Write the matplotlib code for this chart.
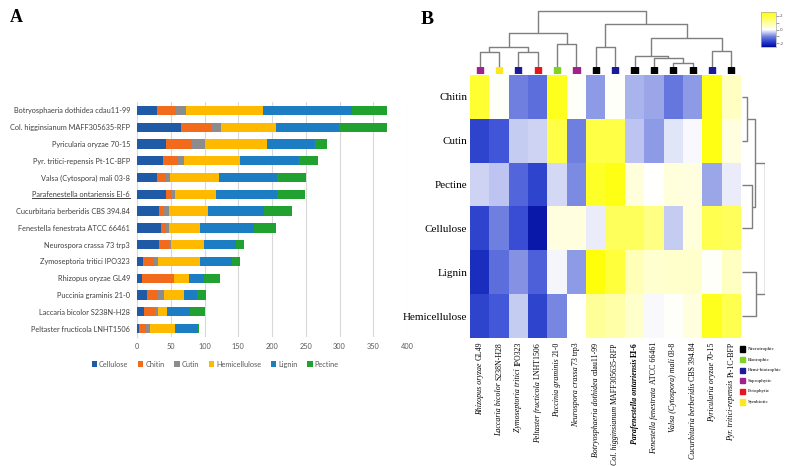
import numpy as np
import matplotlib
matplotlib.use("Agg")
import matplotlib.pyplot as plt
from matplotlib.colors import LinearSegmentedColormap
from matplotlib.patches import Rectangle
from matplotlib.lines import Line2D

W, H = 793, 466

# ---------------- panel A : stacked bars ----------------
fungi = ["Botryosphaeria dothidea cdau11-99", "Col. higginsianum MAFF305635-RFP",
         "Pyricularia oryzae 70-15", "Pyr. tritici-repensis Pt-1C-BFP",
         "Valsa (Cytospora) mali 03-8", "Parafenestella ontariensis EI-6",
         "Cucurbitaria berberidis CBS 394.84", "Fenestella fenestrata ATCC 66461",
         "Neurospora crassa 73 trp3", "Zymoseptoria tritici IPO323",
         "Rhizopus oryzae GL49", "Puccinia graminis 21-0",
         "Laccaria bicolor S238N-H28", "Peltaster fructicola LNHT1506"]
substrates = ["Cellulose", "Chitin", "Cutin", "Hemicellulose", "Lignin", "Pectine"]
cellulose = [30, 65, 43, 39, 29, 43, 32, 36, 32, 9, 8, 15, 11, 3]
chitin = [28, 45, 38, 21, 14, 8, 7, 7, 16, 16, 47, 16, 15, 10]
cutin = [15, 15, 19, 9, 6, 6, 8, 4, 2, 6, 0, 9, 5, 6]
hemicellulose = [113, 81, 92, 83, 72, 60, 58, 47, 49, 62, 22, 30, 13, 38]
lignin = [132, 93, 72, 88, 86, 91, 83, 80, 47, 48, 22, 19, 35, 33]
pectine = [53, 72, 17, 28, 43, 41, 42, 32, 12, 11, 24, 13, 21, 2]
bar_colors = ["#1f5aa6", "#f26b1d", "#8c8c8c", "#ffba00", "#1d7dc2", "#21a12f"]

# ---------------- panel B : heatmap ----------------
heat_rows = ["Chitin", "Cutin", "Pectine", "Cellulose", "Lignin", "Hemicellulose"]
col_species = ["Rhizopus oryzae", "Laccaria bicolor", "Zymoseptoria tritici",
               "Peltaster fructicola", "Puccinia graminis", "Neurospora crassa",
               "Botryosphaeria dothidea", "Col. higginsianum", "Parafenestella ontariensis",
               "Fenestella fenestrata", "Valsa (Cytospora) mali", "Cucurbitaria berberidis",
               "Pyricularia oryzae", "Pyr. tritici-repensis"]
col_strain = ["GL49", "S238N-H28", "IPO323", "LNHT1506", "21-0", "73 trp3", "cdau11-99",
              "MAFF305635-RFP", "EI-6", "ATCC 66461", "03-8", "CBS 394.84", "70-15", "Pt-1C-BFP"]
z_chitin = [2.0, 0.05, -1.0, -1.2, 2.2, 0.05, -0.8, 0.05, -0.6, -0.7, -1.1, -0.8, 2.3, 0.6]
z_cutin = [-1.7, -1.5, -0.4, -0.35, 1.8, -1.0, 1.8, 1.8, -0.45, -0.8, -0.2, -0.05, 2.3, 0.3]
z_pectine = [-0.35, -0.45, -1.3, -1.7, -0.3, -0.9, 2.1, 2.3, 0.35, 0.0, 0.35, 0.3, -0.7, -0.15]
z_cellulose = [-1.7, -1.0, -1.6, -2.3, 0.3, 0.3, -0.15, 1.6, 1.6, 1.2, -0.4, 0.35, 1.7, 1.6]
z_lignin = [-2.0, -1.2, -0.85, -1.35, -0.07, -0.8, 2.4, 1.9, 0.7, 0.45, 0.5, 0.5, 0.05, 0.6]
z_hemi = [-1.7, -1.45, -0.4, -1.7, -0.95, 0.0, 1.0, 0.85, 0.5, -0.05, 0.05, 0.3, 2.2, 1.7]
lifestyle = ["Saprophytic", "Symbiotic", "Hemi-biotrophic", "Ectophytic", "Biotrophic",
             "Saprophytic", "Necrotrophic", "Hemi-biotrophic", "Necrotrophic", "Necrotrophic",
             "Necrotrophic", "Necrotrophic", "Hemi-biotrophic", "Necrotrophic"]
life_names = ["Necrotrophic", "Biotrophic", "Hemi-biotrophic", "Saprophytic", "Ectophytic", "Symbiotic"]
life_colors = ["#000000", "#80d41e", "#1a1a9a", "#a0228c", "#e8141e", "#ffe81a"]

# hclust style merges: (left, right, height); new node ids follow leaves
col_merges = [(0, 1, 2.7), (2, 3, 2.7), (14, 15, 3.6), (4, 5, 4.0), (16, 17, 6.0),
              (6, 7, 3.6), (10, 11, 0.7), (9, 20, 1.55), (8, 21, 1.9), (12, 13, 2.8),
              (22, 23, 5.2), (19, 24, 7.6), (18, 25, 10.0)]
row_merges = [(0, 1, 2.5), (2, 3, 4.4), (6, 7, 5.9), (4, 5, 6.3), (8, 9, 10.0)]

SERIF = "Liberation Serif"
SANS = "Lato"


def px_axes(fig, x0, y0, x1, y1):
    return fig.add_axes([x0 / W, 1 - y1 / H, (x1 - x0) / W, (y1 - y0) / H])


def draw_dendro(ax, merges, n, vertical=True):
    pos = {i: i + 0.5 for i in range(n)}
    hgt = {i: 0.0 for i in range(n)}
    for k, (a, b, h) in enumerate(merges):
        xs = [pos[a], pos[a], pos[b], pos[b]]
        ys = [hgt[a], h, h, hgt[b]]
        if vertical:
            ax.plot(xs, ys, color="#7f7f7f", lw=1.0, solid_capstyle="butt")
        else:
            ax.plot(ys, xs, color="#7f7f7f", lw=1.0, solid_capstyle="butt")
        pos[n + k] = (pos[a] + pos[b]) / 2
        hgt[n + k] = h


fig = plt.figure(figsize=(W / 100, H / 100), dpi=100)
r = fig.canvas.get_renderer()


def fit_size(s, target_px, **kw):
    # font size that makes string s about target_px wide
    t = fig.text(0, 0, s, fontsize=10, **kw)
    w = t.get_window_extent(r).width
    t.remove()
    return 10 * target_px / w


size_a = fit_size(fungi[0], 118, family=SANS)
size_col = fit_size("Botryosphaeria dothidea cdau11-99", 115, family=SERIF, style="italic")

# ---- A
axA = px_axes(fig, 137, 102, 407, 337)
series = [cellulose, chitin, cutin, hemicellulose, lignin, pectine]
ypos = np.arange(len(fungi))
left = np.zeros(len(fungi))
for name, vals, col in zip(substrates, series, bar_colors):
    axA.barh(ypos, vals, left=left, height=0.55, color=col, label=name, zorder=3)
    left += np.array(vals)
axA.set_ylim(len(fungi) - 0.5, -0.5)
axA.set_xlim(0, 400)
axA.set_xticks(np.arange(0, 401, 50))
axA.grid(axis="x", color="#d9d9d9", lw=0.8, zorder=0)
for s in ["top", "right", "bottom"]:
    axA.spines[s].set_visible(False)
axA.spines["left"].set_color("#d9d9d9")
axA.set_yticks(ypos, fungi)
axA.tick_params(axis="y", length=0, pad=5, labelsize=size_a, labelcolor="#404040")
axA.tick_params(axis="x", length=0, pad=4, labelsize=size_a, labelcolor="#595959")
for lab in axA.get_yticklabels() + axA.get_xticklabels():
    lab.set_family(SANS)
leg = axA.legend(ncol=6, loc="center", bbox_to_anchor=(0.29, -0.115), frameon=False,
                 handlelength=0.7, handleheight=0.7, handletextpad=0.3,
                 columnspacing=1.3, prop={"family": SANS, "size": size_a})
for t in leg.get_texts():
    t.set_color("#595959")
fig.text(16 / W, 1 - 18 / H, "A", family=SERIF, weight="bold", fontsize=13, ha="center", va="center")

# ---- B heatmap
cmap = LinearSegmentedColormap.from_list("byw", [
    (0.0, "#000a9c"), (0.1, "#1a2ec0"), (0.2, "#4055d8"), (0.3, "#7080e0"),
    (0.4, "#b8c0f0"), (0.5, "#ffffff"), (1.0, "#ffff00")])
Z = np.array([z_chitin, z_cutin, z_pectine, z_cellulose, z_lignin, z_hemi])
axH = px_axes(fig, 470, 75, 741, 338)
im = axH.imshow(Z, cmap=cmap, vmin=-2.5, vmax=2.5, aspect="auto", interpolation="nearest",
                extent=(0, Z.shape[1], Z.shape[0], 0))
for s in axH.spines.values():
    s.set_visible(False)
axH.set_xticks([])
axH.set_yticks(np.arange(len(heat_rows)) + 0.5, heat_rows)
axH.tick_params(axis="y", length=0, pad=2, labelsize=8)
for lab in axH.get_yticklabels():
    lab.set_family(SERIF)

# column dendrogram
axD = px_axes(fig, 470, 10, 741, 67)
draw_dendro(axD, col_merges, len(col_species), vertical=True)
axD.set_xlim(0, len(col_species))
axD.set_ylim(0, 10.1)
axD.axis("off")

# lifestyle squares
axS = px_axes(fig, 470, 67, 741, 74)
for i, ls in enumerate(lifestyle):
    axS.add_patch(Rectangle((i + 0.5 - 0.16, 0.05), 0.32, 0.9,
                            color=life_colors[life_names.index(ls)]))
axS.set_xlim(0, len(col_species))
axS.set_ylim(0, 1)
axS.axis("off")

# row dendrogram
axR = px_axes(fig, 741.5, 75, 765.5, 338)
draw_dendro(axR, row_merges, len(heat_rows), vertical=False)
axR.set_ylim(len(heat_rows), 0)
axR.set_xlim(0, 10.2)
axR.axis("off")

# colorbar
cax = px_axes(fig, 761, 12, 776, 47)
cb = fig.colorbar(im, cax=cax, ticks=[-2, -1, 0, 1, 2])
cb.ax.set_yticklabels(["-2", "", "0", "", "2"])
cb.ax.tick_params(labelsize=3, length=2, width=0.4, pad=1, colors="#555555")
cb.outline.set_edgecolor("#aaaaaa")
cb.outline.set_linewidth(0.5)

fig.text(427 / W, 1 - 19 / H, "B", family=SERIF, weight="bold", fontsize=14, ha="center", va="center")

# lifestyle legend
axL = px_axes(fig, 738, 343, 793, 408)
axL.set_xlim(0, 55)
axL.set_ylim(65, 0)
for k, (nm, c) in enumerate(zip(life_names, life_colors)):
    yc = 6 + k * 10.6
    axL.add_patch(Rectangle((2, yc - 2.6), 5.2, 5.2, color=c))
    axL.text(10, yc, nm, family=SERIF, fontsize=3.6, va="center", ha="left")
axL.axis("off")

# rotated column labels: strain (upright) at top, species (italic) below
fig.canvas.draw()
ytop = H - 342
for i, (sp, st) in enumerate(zip(col_species, col_strain)):
    xpx = axH.transData.transform((i + 0.5, 0))[0]
    bold = "bold" if sp.startswith("Parafenestella") else "normal"
    t1 = fig.text(xpx / W, ytop / H, st, rotation=90, ha="center", va="top",
                  family=SERIF, fontsize=size_col, weight=bold)
    bb = t1.get_window_extent(r)
    fig.text(xpx / W, (bb.y0 - 2) / H, sp, rotation=90, ha="center", va="top",
             family=SERIF, fontsize=size_col, style="italic", weight=bold)

# underline Parafenestella in panel A
lab = axA.get_yticklabels()[fungi.index("Parafenestella ontariensis EI-6")]
bb = lab.get_window_extent(r)
fig.add_artist(Line2D([bb.x0 / W, bb.x1 / W], [(bb.y0 + 0.5) / H, (bb.y0 + 0.5) / H],
                      transform=fig.transFigure, color="#404040", lw=0.7))

fig.savefig("out.png", dpi=100)
